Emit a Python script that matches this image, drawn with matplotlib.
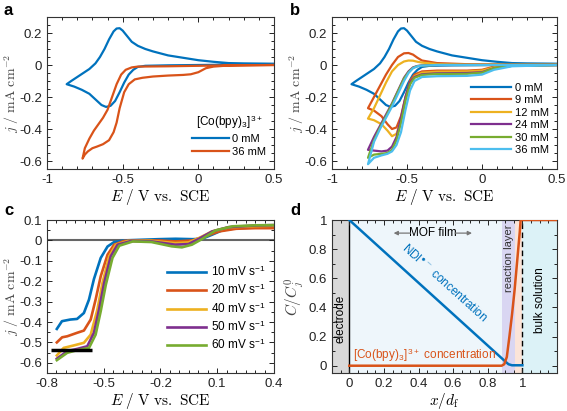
import numpy as np
import matplotlib
matplotlib.use('Agg')
import matplotlib.pyplot as plt
from matplotlib.ticker import MultipleLocator

plt.rcParams['font.family'] = ['Liberation Sans', 'DejaVu Sans']
plt.rcParams['mathtext.fontset'] = 'cm'

# MATLAB default colours
BLUE = '#0072BD'
ORANGE = '#D95319'
YELLOW = '#EDB120'
PURPLE = '#7E2F8E'
GREEN = '#77AC30'
CYAN = '#4DBEEE'

# --- panel a/b : CVs (potential in V, current in mA cm^-2) ---
# 0 mM, full loop (cathodic sweep then return)
cv0_E = [0.5, 0.2, 0.0, -0.2, -0.35, -0.4, -0.43, -0.46, -0.49, -0.52, -0.55, -0.58, -0.61,
         -0.64, -0.68, -0.72, -0.77, -0.82, -0.87,
         -0.84, -0.8, -0.76, -0.72, -0.68, -0.65, -0.62, -0.59, -0.56, -0.54, -0.52, -0.5,
         -0.47, -0.44, -0.4, -0.35, -0.3, -0.2, -0.1, 0.0, 0.1, 0.2, 0.3, 0.5]
cv0_j = [0.003, 0.002, 0.0, -0.002, -0.005, -0.012, -0.03, -0.06, -0.11, -0.17, -0.225, -0.255, -0.262,
         -0.25, -0.215, -0.18, -0.155, -0.135, -0.12,
         -0.1, -0.075, -0.05, -0.025, 0.01, 0.05, 0.1, 0.16, 0.21, 0.228, 0.23, 0.215,
         0.18, 0.145, 0.12, 0.1, 0.085, 0.06, 0.045, 0.03, 0.02, 0.012, 0.01, 0.008]

# 36 mM (panel a)
cv36a_E = [0.5, 0.2, 0.1, 0.05, 0.0, -0.05, -0.1, -0.2, -0.3, -0.37, -0.42, -0.46, -0.49, -0.52,
           -0.54, -0.56, -0.59, -0.63, -0.67, -0.7, -0.73, -0.75, -0.765,
           -0.75, -0.72, -0.69, -0.66, -0.63, -0.6, -0.57, -0.54, -0.51, -0.48, -0.44, -0.4,
           -0.2, 0.0, 0.2, 0.5]
cv36a_j = [0.0, -0.003, -0.01, -0.02, -0.045, -0.058, -0.062, -0.066, -0.072, -0.08, -0.09, -0.12,
           -0.17, -0.27, -0.36, -0.42, -0.47, -0.495, -0.51, -0.52, -0.54, -0.56, -0.585,
           -0.52, -0.46, -0.41, -0.37, -0.33, -0.28, -0.2, -0.12, -0.06, -0.03, -0.015, -0.01,
           -0.008, -0.005, -0.002, 0.0]

# panel b, cathodic branch potentials (shared) and return branch potentials
cat_E = [0.5, 0.2, 0.08, 0.0, -0.1, -0.3, -0.4, -0.45, -0.48, -0.51, -0.54, -0.57, -0.6,
         -0.63, -0.67, -0.72, -0.76]
ano_E = [-0.76, -0.72, -0.68, -0.64, -0.6, -0.56, -0.52, -0.49, -0.46, -0.43, -0.4, -0.3,
         -0.1, 0.2, 0.5]

cv9_cat = [0.0, -0.005, -0.01, -0.03, -0.035, -0.035, -0.04, -0.06, -0.1, -0.2, -0.32, -0.39,
           -0.40, -0.37, -0.32, -0.285, -0.27]
cv9_ano = [-0.27, -0.2, -0.13, -0.06, 0.0, 0.05, 0.073, 0.075, 0.065, 0.045, 0.028, 0.012,
           0.005, 0.002, 0.002]
cv12_cat = [0.0, -0.005, -0.015, -0.035, -0.04, -0.042, -0.048, -0.07, -0.12, -0.22, -0.35,
            -0.43, -0.445, -0.41, -0.37, -0.345, -0.335]
cv12_ano = [-0.335, -0.27, -0.19, -0.11, -0.04, 0.0, 0.022, 0.028, 0.027, 0.02, 0.015, 0.006,
            0.002, 0.002, 0.002]
cv24_cat = [0.0, -0.005, -0.02, -0.045, -0.05, -0.052, -0.058, -0.075, -0.11, -0.2, -0.33,
            -0.45, -0.51, -0.535, -0.54, -0.535, -0.53]
cv24_ano = [-0.53, -0.45, -0.38, -0.31, -0.24, -0.16, -0.08, -0.04, -0.015, -0.006, -0.003,
            0.0, 0.0, 0.0, 0.0]
cv30_cat = [0.0, -0.005, -0.02, -0.048, -0.055, -0.056, -0.062, -0.08, -0.12, -0.22, -0.36,
            -0.47, -0.53, -0.55, -0.555, -0.56, -0.58]
cv30_ano = [-0.58, -0.47, -0.39, -0.32, -0.245, -0.165, -0.085, -0.045, -0.018, -0.007,
            -0.004, 0.0, 0.0, 0.0, 0.0]
cv36_cat = [0.0, -0.008, -0.03, -0.06, -0.068, -0.07, -0.075, -0.1, -0.16, -0.28, -0.42,
            -0.5, -0.54, -0.555, -0.565, -0.58, -0.62]
cv36_ano = [-0.62, -0.48, -0.4, -0.33, -0.26, -0.18, -0.1, -0.05, -0.02, -0.008, -0.004,
            0.0, 0.0, 0.0, 0.0]

b_labels = ['0 mM', '9 mM', '12 mM', '24 mM', '30 mM', '36 mM']

# --- panel c : steady-state sweeps at several scan rates ---
c_labels = ['10', '20', '40', '50', '60']
c10_E = [-0.748, -0.721, -0.677, -0.641, -0.605, -0.578, -0.552, -0.516, -0.48, -0.445, -0.39,
         -0.3, -0.21, -0.12, -0.03, 0.02, 0.073, 0.127, 0.2, 0.3, 0.4]
c10_j = [-0.434, -0.396, -0.388, -0.385, -0.356, -0.29, -0.19, -0.086, -0.03, -0.008, 0.0,
         0.003, 0.006, 0.008, 0.006, 0.008, 0.028, 0.05, 0.06, 0.063, 0.063]
c20_E = [-0.748, -0.72, -0.693, -0.641, -0.605, -0.569, -0.543, -0.516, -0.48, -0.445, -0.39,
         -0.21, -0.12, -0.03, 0.036, 0.11, 0.2, 0.3, 0.4]
c20_j = [-0.50, -0.475, -0.47, -0.453, -0.442, -0.388, -0.29, -0.176, -0.07, -0.021, -0.002,
         0.0, -0.005, 0.0, 0.02, 0.044, 0.057, 0.06, 0.06]
c40_E = [-0.748, -0.712, -0.659, -0.605, -0.569, -0.534, -0.507, -0.471, -0.436, -0.373,
         -0.248, -0.123, -0.052, 0.002, 0.073, 0.16, 0.3, 0.4]
c40_j = [-0.564, -0.527, -0.515, -0.502, -0.462, -0.34, -0.209, -0.078, -0.021, -0.003,
         -0.002, -0.013, -0.01, 0.011, 0.044, 0.064, 0.07, 0.072]
c50_E = [-0.748, -0.693, -0.641, -0.587, -0.552, -0.525, -0.498, -0.463, -0.427, -0.355,
         -0.248, -0.123, -0.052, 0.002, 0.073, 0.16, 0.3, 0.4]
c50_j = [-0.58, -0.543, -0.532, -0.519, -0.453, -0.34, -0.209, -0.078, -0.021, -0.003,
         -0.005, -0.021, -0.018, 0.007, 0.044, 0.065, 0.073, 0.075]
c60_E = [-0.748, -0.693, -0.641, -0.578, -0.543, -0.516, -0.489, -0.454, -0.418, -0.346,
         -0.248, -0.141, -0.087, -0.034, 0.02, 0.091, 0.18, 0.3, 0.4]
c60_j = [-0.587, -0.551, -0.538, -0.527, -0.462, -0.347, -0.217, -0.086, -0.026, -0.005,
         -0.008, -0.029, -0.034, -0.021, 0.007, 0.049, 0.069, 0.074, 0.075]
c_limit_E = [-0.78, -0.56]
c_limit_j = [-0.535, -0.535]

# --- panel d : concentration profiles ---
ndi_x = [0.0, 0.905, 0.92, 0.94, 1.0]
ndi_c = [1.0, 0.025, 0.01, 0.003, 0.003]
co_x = [0.0, 0.88, 0.895, 0.91, 0.925, 0.94, 0.955, 0.97, 0.985, 0.99, 1.2]
co_c = [0.0, 0.0, 0.01, 0.06, 0.2, 0.35, 0.52, 0.72, 0.92, 1.0, 1.0]

W, H = 567, 411
fig = plt.figure(figsize=(W / 100, H / 100), dpi=100)


def box(l, t, r, b):
    return fig.add_axes([l / W, 1 - b / H, (r - l) / W, (b - t) / H])


ax_a = box(47, 17, 274, 169)
ax_b = box(332, 17, 557, 169)
ax_c = box(47, 220, 274, 373)
ax_d = box(332, 220, 557, 373)

E_LABEL = r'$E\ /\ \mathrm{V\ vs.\ SCE}$'
J_LABEL = r'$j\ /\ \mathrm{mA\ cm^{-2}}$'
LW = 1.6


def style(ax):
    ax.tick_params(which='both', direction='in', top=True, right=True,
                   labelsize=9.5, colors='#222222', width=0.7)
    ax.tick_params(which='major', length=3.5)
    ax.tick_params(which='minor', length=2)
    for s in ax.spines.values():
        s.set_linewidth(0.8)
        s.set_color('#333333')


def labels(ax, xl, yl):
    ax.set_xlabel(xl, fontsize=11, labelpad=1)
    ax.set_ylabel(yl, fontsize=10, color='#444444')
    ax.yaxis.set_label_coords(-0.115, 0.5)


for ax in (ax_a, ax_b):
    ax.set_xlim(-1, 0.5)
    ax.set_ylim(-0.65, 0.3)
    ax.set_xticks([-1, -0.5, 0, 0.5])
    ax.set_xticklabels(['-1', '-0.5', '0', '0.5'])
    ax.set_yticks([-0.6, -0.4, -0.2, 0, 0.2])
    ax.set_yticklabels(['-0.6', '-0.4', '-0.2', '0', '0.2'])
    ax.xaxis.set_minor_locator(MultipleLocator(0.1))
    ax.yaxis.set_minor_locator(MultipleLocator(0.05))
    labels(ax, E_LABEL, J_LABEL)
    style(ax)

# panel a
ax_a.plot(cv0_E, cv0_j, color=BLUE, lw=LW, label='0 mM')
ax_a.plot(cv36a_E, cv36a_j, color=ORANGE, lw=LW, label='36 mM')
leg = ax_a.legend(title=r'[Co(bpy)$_{\mathregular{3}}$]$^{\mathregular{3+}}$', loc='lower right',
                  bbox_to_anchor=(1.0, 0.03), frameon=False, fontsize=8, title_fontsize=8.5,
                  handlelength=3.3, handletextpad=0.3, labelspacing=0.25, borderpad=0.2)

# panel b
ax_b.plot(cv0_E, cv0_j, color=BLUE, lw=LW, label=b_labels[0])
b_series = [(cv9_cat, cv9_ano, ORANGE), (cv12_cat, cv12_ano, YELLOW),
            (cv24_cat, cv24_ano, PURPLE), (cv30_cat, cv30_ano, GREEN),
            (cv36_cat, cv36_ano, CYAN)]
for (cat, ano, col), lab in zip(b_series, b_labels[1:]):
    ax_b.plot(cat_E + ano_E, cat + ano, color=col, lw=LW, label=lab)
ax_b.legend(loc='lower right', bbox_to_anchor=(1.0, 0.04), frameon=False, fontsize=8,
            handlelength=3.6, handletextpad=0.4, labelspacing=0.22, borderpad=0.2)

# panel c
ax_c.set_xlim(-0.8, 0.4)
ax_c.set_ylim(-0.65, 0.1)
ax_c.set_xticks([-0.8, -0.5, -0.2, 0.1, 0.4])
ax_c.set_xticklabels(['-0.8', '-0.5', '-0.2', '0.1', '0.4'])
ax_c.set_yticks(np.round(np.arange(-0.6, 0.101, 0.1), 1))
ax_c.set_yticklabels(['-0.6', '-0.5', '-0.4', '-0.3', '-0.2', '-0.1', '0', '0.1'])
ax_c.xaxis.set_minor_locator(MultipleLocator(0.05))
ax_c.yaxis.set_minor_locator(MultipleLocator(0.05))
ax_c.axhline(0, color='#666666', lw=1.5, zorder=1)
c_series = [(c10_E, c10_j, BLUE), (c20_E, c20_j, ORANGE), (c40_E, c40_j, YELLOW),
            (c50_E, c50_j, PURPLE), (c60_E, c60_j, GREEN)]
for (e, j, col), lab in zip(c_series, c_labels):
    ax_c.plot(e, j, color=col, lw=LW + 0.3, label=lab + ' mV s' + r'$^{\mathregular{-1}}$')
ax_c.plot(c_limit_E, c_limit_j, color='black', lw=2.5, solid_capstyle='butt')
ax_c.legend(loc='lower right', bbox_to_anchor=(1.0, 0.08), frameon=False, fontsize=8.5,
            handlelength=3.3, handletextpad=0.4, labelspacing=0.3, borderpad=0.2)
labels(ax_c, E_LABEL, J_LABEL)
style(ax_c)

# panel d
ax_d.set_xlim(-0.1, 1.2)
ax_d.set_ylim(-0.05, 1.0)
ax_d.set_xticks([0, 0.2, 0.4, 0.6, 0.8, 1])
ax_d.set_xticklabels(['0', '0.2', '0.4', '0.6', '0.8', '1'])
ax_d.set_yticks([0, 0.2, 0.4, 0.6, 0.8, 1])
ax_d.set_yticklabels(['0', '0.2', '0.4', '0.6', '0.8', '1'])
ax_d.xaxis.set_minor_locator(MultipleLocator(0.05))
ax_d.yaxis.set_minor_locator(MultipleLocator(0.1))
ax_d.axvspan(-0.1, 0, color='#d9d9d9', lw=0, zorder=0)
ax_d.axvspan(0, 0.885, color='#eef6fb', lw=0, zorder=0)
ax_d.axvspan(0.885, 0.955, color='#d9d6f2', lw=0, zorder=0)
ax_d.axvspan(0.955, 1.0, color='#fbe4d8', lw=0, zorder=0)
ax_d.axvspan(1.0, 1.2, color='#dcf2f7', lw=0, zorder=0)
ax_d.axvline(0, color='black', lw=1.0, zorder=1)
ax_d.axvline(1.0, color='black', lw=1.0, ls=(0, (4, 2.5)), zorder=1)
ax_d.plot(ndi_x, ndi_c, color=BLUE, lw=LW + 0.2, zorder=3)
ax_d.plot(co_x, co_c, color=ORANGE, lw=LW + 0.2, zorder=3)
ax_d.text(-0.05, 0.32, 'electrode', rotation=90, ha='center', va='center', fontsize=8.5)
ax_d.text(0.922, 0.74, 'reaction layer', rotation=90, ha='center', va='center', fontsize=8,
          color='#333333')
ax_d.text(1.1, 0.45, 'bulk solution', rotation=90, ha='center', va='center', fontsize=8.5)
ax_d.text(0.48, 0.91, 'MOF film', ha='center', va='center', fontsize=8.5)
arrow = dict(arrowstyle='-|>', color='#777777', lw=0.9, mutation_scale=6)
ax_d.annotate('', xy=(0.24, 0.91), xytext=(0.37, 0.91), arrowprops=arrow)
ax_d.annotate('', xy=(0.725, 0.91), xytext=(0.595, 0.91), arrowprops=arrow)
ax_d.text(0.55, 0.57, r'NDI$^{\bullet-}$ concentration', rotation=-42,
          rotation_mode='anchor', ha='center', va='center', fontsize=8.5, color=BLUE)
ax_d.text(0.02, 0.075, r'[Co(bpy)$_{\mathregular{3}}$]$^{\mathregular{3+}}$ concentration',
          ha='left', va='center', fontsize=8.5, color=ORANGE)
labels(ax_d, r'$x/d_\mathrm{f}$', r'$C/C_j^0$')
ax_d.yaxis.label.set_fontsize(11)
style(ax_d)

for lab, x, y in [('a', 4, 3), ('b', 290, 3), ('c', 4, 203), ('d', 290, 203)]:
    fig.text(x / W, 1 - y / H, lab, fontsize=12, fontweight='bold', ha='left', va='top')

fig.savefig('out.png', dpi=100)
